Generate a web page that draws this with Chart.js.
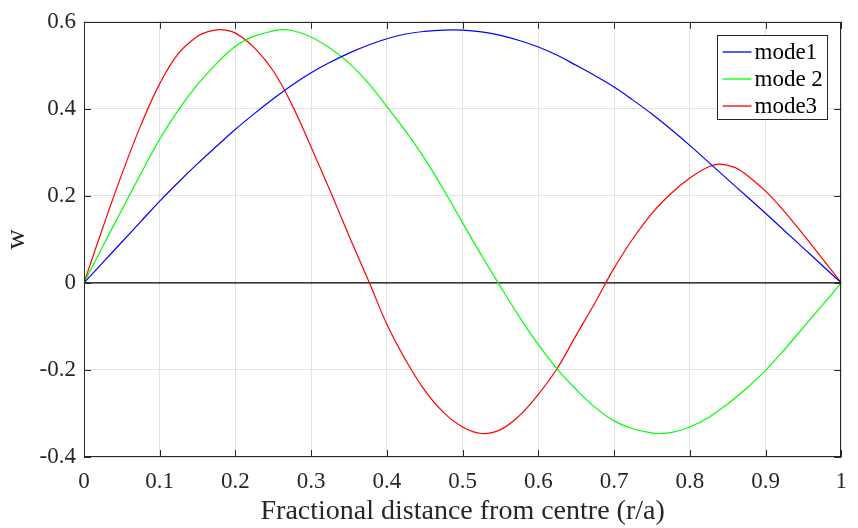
<!DOCTYPE html>
<html>
<head>
<meta charset="utf-8">
<script src="https://cdn.jsdelivr.net/npm/chart.js@4.4.1/dist/chart.umd.min.js"></script>
<style>
html, body { margin: 0; padding: 0; background: #fff; }
#wrap { width: 858px; height: 528px; }
</style>
</head>
<body>
<div id="wrap"><canvas id="chartModos"></canvas></div>
<script>
// Modos de vibración: desplazamiento w contra r/a
const mode1X = [0, 0.025, 0.05, 0.075, 0.1, 0.125, 0.15, 0.175, 0.2, 0.225, 0.25, 0.275, 0.3, 0.325, 0.35, 0.375, 0.4, 0.425, 0.45, 0.475, 0.5,
    0.525, 0.55, 0.575, 0.6, 0.625, 0.65, 0.675, 0.7, 0.725, 0.75, 0.775, 0.8, 0.825, 0.85, 0.875, 0.9, 0.925, 0.95, 0.975, 1];
const mode1W = [0, 0.047, 0.094, 0.141, 0.188, 0.232, 0.274, 0.314, 0.353, 0.389, 0.423, 0.455, 0.483, 0.507, 0.528, 0.546, 0.561, 0.572, 0.578, 0.581, 0.581,
    0.577, 0.569, 0.557, 0.542, 0.523, 0.5, 0.476, 0.45, 0.42, 0.388, 0.353, 0.316, 0.277, 0.238, 0.199, 0.16, 0.12, 0.08, 0.04, 0];

const mode2X = [0, 0.025, 0.05, 0.075, 0.1, 0.125, 0.15, 0.175, 0.2, 0.225, 0.25, 0.26, 0.275, 0.3, 0.325, 0.35, 0.375, 0.4, 0.425, 0.45, 0.475, 0.5,
    0.525, 0.547, 0.575, 0.6, 0.625, 0.65, 0.675, 0.7, 0.725, 0.75, 0.76, 0.775, 0.8, 0.825, 0.85, 0.875, 0.9, 0.925, 0.95, 0.975, 1];
const mode2W = [0, 0.085, 0.168, 0.251, 0.33, 0.398, 0.456, 0.504, 0.544, 0.567, 0.579, 0.582, 0.58, 0.565, 0.539, 0.505, 0.46, 0.405, 0.348, 0.285, 0.214, 0.138,
    0.063, 0, -0.078, -0.142, -0.198, -0.245, -0.286, -0.317, -0.335, -0.345, -0.346, -0.344, -0.331, -0.309, -0.278, -0.242, -0.201, -0.153, -0.102, -0.051, 0];

const mode3X = [0, 0.025, 0.05, 0.075, 0.1, 0.125, 0.15, 0.165, 0.181, 0.2, 0.225, 0.25, 0.275, 0.3, 0.325, 0.35, 0.377, 0.4, 0.425, 0.45, 0.475, 0.5,
    0.525, 0.55, 0.575, 0.6, 0.625, 0.65, 0.675, 0.689, 0.7, 0.725, 0.75, 0.775, 0.8, 0.825, 0.84, 0.86, 0.875, 0.9, 0.925, 0.95, 0.975, 1];
const mode3W = [0, 0.128, 0.25, 0.362, 0.458, 0.528, 0.567, 0.578, 0.582, 0.574, 0.54, 0.487, 0.408, 0.312, 0.212, 0.108, 0, -0.095, -0.178, -0.247, -0.298, -0.331,
    -0.346, -0.337, -0.305, -0.256, -0.196, -0.12, -0.045, 0, 0.034, 0.102, 0.16, 0.205, 0.241, 0.267, 0.273, 0.265, 0.248, 0.211, 0.164, 0.111, 0.056, 0];

// línea de referencia w = 0
const zeroX = [0, 1];
const zeroW = [0, 0];

const xTicks = [0, 0.1, 0.2, 0.3, 0.4, 0.5, 0.6, 0.7, 0.8, 0.9, 1];
const xTickLabels = ['0', '0.1', '0.2', '0.3', '0.4', '0.5', '0.6', '0.7', '0.8', '0.9', '1'];
const yTicks = [-0.4, -0.2, 0, 0.2, 0.4, 0.6];
const yTickLabels = ['-0.4', '-0.2', '0', '0.2', '0.4', '0.6'];

const FUENTE = "'Liberation Serif', 'Times New Roman', serif";
const COLOR_EJE = '#262626';

function pares(xs, ys) {
    return xs.map((x, i) => ({ x: x, y: ys[i] }));
}

// Caja del eje con marcas hacia dentro en los cuatro lados
const marcoEjes = {
    id: 'marcoEjes',
    afterDatasetsDraw(chart) {
        const { ctx, chartArea: a, scales: { x, y } } = chart;
        const largo = 7;
        ctx.save();
        ctx.strokeStyle = COLOR_EJE;
        ctx.lineWidth = 1;
        ctx.beginPath();
        xTicks.forEach(v => {
            const px = Math.round(x.getPixelForValue(v)) + 0.5;
            ctx.moveTo(px, a.bottom); ctx.lineTo(px, a.bottom - largo);
            ctx.moveTo(px, a.top); ctx.lineTo(px, a.top + largo);
        });
        yTicks.forEach(v => {
            const py = Math.round(y.getPixelForValue(v)) + 0.5;
            ctx.moveTo(a.left, py); ctx.lineTo(a.left + largo, py);
            ctx.moveTo(a.right, py); ctx.lineTo(a.right - largo, py);
        });
        ctx.stroke();
        ctx.strokeRect(Math.round(a.left) + 0.5, Math.round(a.top) + 0.5,
            Math.round(a.right - a.left) - 1, Math.round(a.bottom - a.top) - 1);
        ctx.restore();
    }
};

// Leyenda dentro del área, esquina superior derecha
const leyendaCaja = {
    id: 'leyendaCaja',
    afterDraw(chart) {
        const { ctx, chartArea: a } = chart;
        const items = chart.data.datasets.filter(d => d.label);
        const bx = Math.round(a.right - 124) + 0.5;
        const by = Math.round(a.top + 13) + 0.5;
        const bw = 110, bh = 84;
        ctx.save();
        ctx.fillStyle = '#fff';
        ctx.fillRect(bx, by, bw, bh);
        ctx.strokeStyle = COLOR_EJE;
        ctx.lineWidth = 1;
        ctx.strokeRect(bx, by, bw, bh);
        ctx.font = '23px ' + FUENTE;
        ctx.textBaseline = 'alphabetic';
        ctx.textAlign = 'left';
        items.forEach((d, i) => {
            const ly = Math.round(by + 16 + i * 27);
            ctx.strokeStyle = d.borderColor;
            ctx.lineWidth = 1.3;
            ctx.beginPath();
            ctx.moveTo(bx + 5, ly);
            ctx.lineTo(bx + 34, ly);
            ctx.stroke();
            ctx.fillStyle = '#000';
            ctx.fillText(d.label, bx + 37, ly + 7);
        });
        ctx.restore();
    }
};

document.addEventListener('DOMContentLoaded', function() {
    const el = document.getElementById('chartModos');
    new Chart(el.getContext('2d'), {
        type: 'line',
        data: {
            datasets: [
                { label: 'mode1', data: pares(mode1X, mode1W), borderColor: '#0000ff' },
                { label: 'mode 2', data: pares(mode2X, mode2W), borderColor: '#00ff00' },
                { label: 'mode3', data: pares(mode3X, mode3W), borderColor: '#ff0000' },
                { label: '', data: pares(zeroX, zeroW), borderColor: '#000000', tension: 0 }
            ]
        },
        options: {
            responsive: true,
            maintainAspectRatio: false,
            animation: false,
            layout: { padding: { top: 20, right: 2, left: 0, bottom: 0 } },
            elements: {
                point: { radius: 0 },
                line: { borderWidth: 1.2, tension: 0.4, fill: false }
            },
            plugins: { legend: { display: false }, tooltip: { enabled: false } },
            scales: {
                x: {
                    type: 'linear',
                    min: 0,
                    max: 1,
                    afterFit: s => { s.height = 71; },
                    afterBuildTicks: s => { s.ticks = xTicks.map(v => ({ value: v })); },
                    grid: { color: '#e2e2e2', drawTicks: false },
                    border: { display: false },
                    ticks: {
                        autoSkip: false,
                        maxRotation: 0,
                        padding: 11,
                        color: COLOR_EJE,
                        font: { family: FUENTE, size: 23 },
                        callback: (v, i) => xTickLabels[i]
                    },
                    title: {
                        display: true,
                        text: 'Fractional distance from centre (r/a)',
                        color: COLOR_EJE,
                        font: { family: FUENTE, size: 28 },
                        padding: { top: 0, bottom: 0 }
                    }
                },
                y: {
                    min: -0.4,
                    max: 0.6,
                    afterFit: s => { s.width = 84; },
                    afterBuildTicks: s => { s.ticks = yTicks.map(v => ({ value: v })); },
                    grid: { color: '#e2e2e2', drawTicks: false },
                    border: { display: false },
                    ticks: {
                        padding: 8,
                        color: COLOR_EJE,
                        font: { family: FUENTE, size: 23 },
                        callback: (v, i) => yTickLabels[i]
                    },
                    title: {
                        display: true,
                        text: 'w',
                        color: COLOR_EJE,
                        font: { family: FUENTE, size: 28 },
                        padding: { top: 0, bottom: 0 }
                    }
                }
            }
        },
        plugins: [marcoEjes, leyendaCaja]
    });
});
</script>
</body>
</html>
